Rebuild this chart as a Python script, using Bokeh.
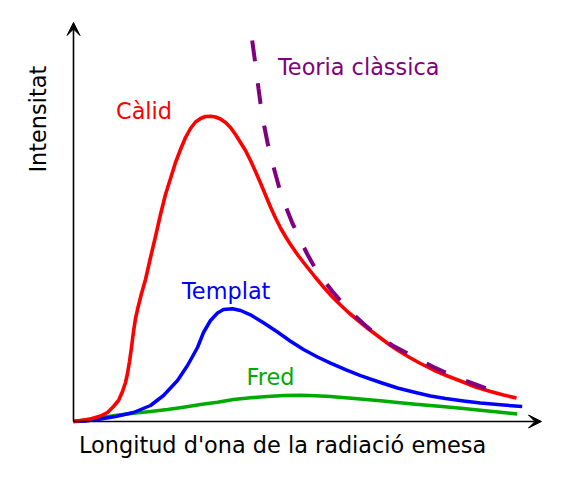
import math
from bokeh.plotting import figure
from bokeh.models import Range1d, Arrow, VeeHead, Label
from bokeh.embed import file_html
from bokeh.resources import INLINE

# Wavelength (arbitrary units) and intensity (arbitrary units)
hot_x = [0, 7, 17, 27, 34, 40, 45, 49, 52, 54, 56, 58, 60, 62, 64.5, 68, 72, 77, 82, 87, 92, 97,
         102, 107, 112, 117, 122, 127, 132, 137, 142, 147, 152, 157, 162, 167, 172, 177, 182, 187,
         192, 197, 202, 207, 212, 217, 225, 234, 242, 250, 258, 267, 275, 284, 295, 307, 317, 327,
         337, 347, 360, 374, 387, 402, 417, 430, 443]
hot_y = [0, 1, 2.5, 5.5, 9, 15, 21, 30, 39, 48, 60, 74, 90, 103, 114, 128, 142, 164, 185, 207, 227, 243,
         259, 272, 284, 293, 299.5, 303, 305, 305.3, 304.5, 302.5, 299, 294, 287, 279, 271, 261, 250, 238.5,
         226.5, 214.5, 203.5, 193.5, 185, 177, 165.5, 154, 144, 134.5, 125.5, 116.5, 109, 101.5, 92.5, 83.5, 76, 69.5,
         63.5, 58, 51.5, 45.5, 40.5, 34.5, 30, 26.5, 23.5]

warm_x = [0, 12, 27, 42, 60, 77, 90, 104, 114, 124, 130, 137, 144, 150, 159, 167, 177, 190, 204,
          217, 230, 244, 257, 272, 287, 307, 324, 342, 357, 372, 390, 407, 427, 448.7]
warm_y = [0, 0.5, 2.5, 5, 9, 16, 26, 41, 56, 74, 89, 101, 108.5, 112, 112.7, 111, 106.7, 98.7, 89.5,
          80.3, 72, 64.5, 58.3, 51.8, 45.8, 39, 33.5, 29, 25.5, 23, 20.5, 18.5, 16.7, 15]

cold_x = [0, 12, 27, 42, 57, 77, 94, 110, 127, 144, 160, 177, 194, 210, 227, 242, 257, 272, 287,
          307, 324, 342, 357, 374, 390, 407, 427, 443.7]
cold_y = [0, 1.5, 4, 6, 8, 10, 12, 14.3, 17, 19.3, 22, 23.7, 25, 26, 26.3, 25.8, 25, 23.8, 22.5,
          20.7, 19, 17.3, 16, 14.5, 13, 11.3, 9.3, 7.5]

classic_x = [178.7, 181, 183, 185, 187, 189, 191, 193, 195, 198, 201, 204, 207, 211, 215, 219, 224,
             229, 234, 239, 245, 252, 259, 266, 273, 281, 290, 298, 306, 319, 334, 347, 360, 374,
             387, 402, 417, 427]
classic_y = [381, 364, 349, 333, 318, 305, 294, 284, 274, 262, 251, 240, 229, 218, 208, 198, 188,
             177, 167, 158, 148.3, 139, 130, 122, 114.3, 106, 97.7, 91, 85, 76, 68, 61, 54.5, 48,
             42.5, 37, 31.5, 28]

labels = ["Càlid", "Templat", "Fred", "Teoria clàssica"]
x_title = "Longitud d'ona de la radiació emesa"
y_title = "Intensitat"

FONT = "DejaVu Sans"
FS = "22.4px"

p = figure(width=562, height=480, output_backend="svg", toolbar_location=None,
           x_axis_type=None, y_axis_type=None, min_border=0,
           x_range=Range1d(-73, 489), y_range=Range1d(-59, 421))
p.outline_line_color = None
p.grid.visible = False
p.background_fill_color = "white"
p.border_fill_color = "white"

# axes with arrows
ax_len_x = 468
ax_len_y = 399
p.add_layout(Arrow(x_start=0, y_start=0, x_end=ax_len_x, y_end=0, line_width=1.6, line_color="black",
                   end=VeeHead(size=13, fill_color="black", line_color="black", line_width=1)))
p.add_layout(Arrow(x_start=0, y_start=0, x_end=0, y_end=ax_len_y, line_width=1.6, line_color="black",
                   end=VeeHead(size=13, fill_color="black", line_color="black", line_width=1)))

p.line(cold_x, cold_y, line_color="#00aa00", line_width=3.5, line_join="round")
p.line(warm_x, warm_y, line_color="#0000ff", line_width=3.5, line_join="round")
p.line(hot_x, hot_y, line_color="#ff0000", line_width=3.6, line_join="round")
p.line(classic_x, classic_y, line_color="#800080", line_width=4, line_dash="21 22")

def lab(x, y, text, color, angle=0.0):
    p.add_layout(Label(x=x, y=y, text=text, text_font=FONT, text_font_size=FS,
                       text_color=color, text_baseline="alphabetic", text_align="left",
                       angle=angle))

lab(42.5, 310.5, labels[0], "#ff0000")
lab(108.5, 131, labels[1], "#0000ff")
lab(173, 44.5, labels[2], "#00aa00")
lab(204.5, 354.5, labels[3], "#800080")
lab(5.5, -23, x_title, "black")
lab(-36, 249, y_title, "black", angle=math.pi / 2)

open("out.html", "w").write(file_html(p, INLINE))
